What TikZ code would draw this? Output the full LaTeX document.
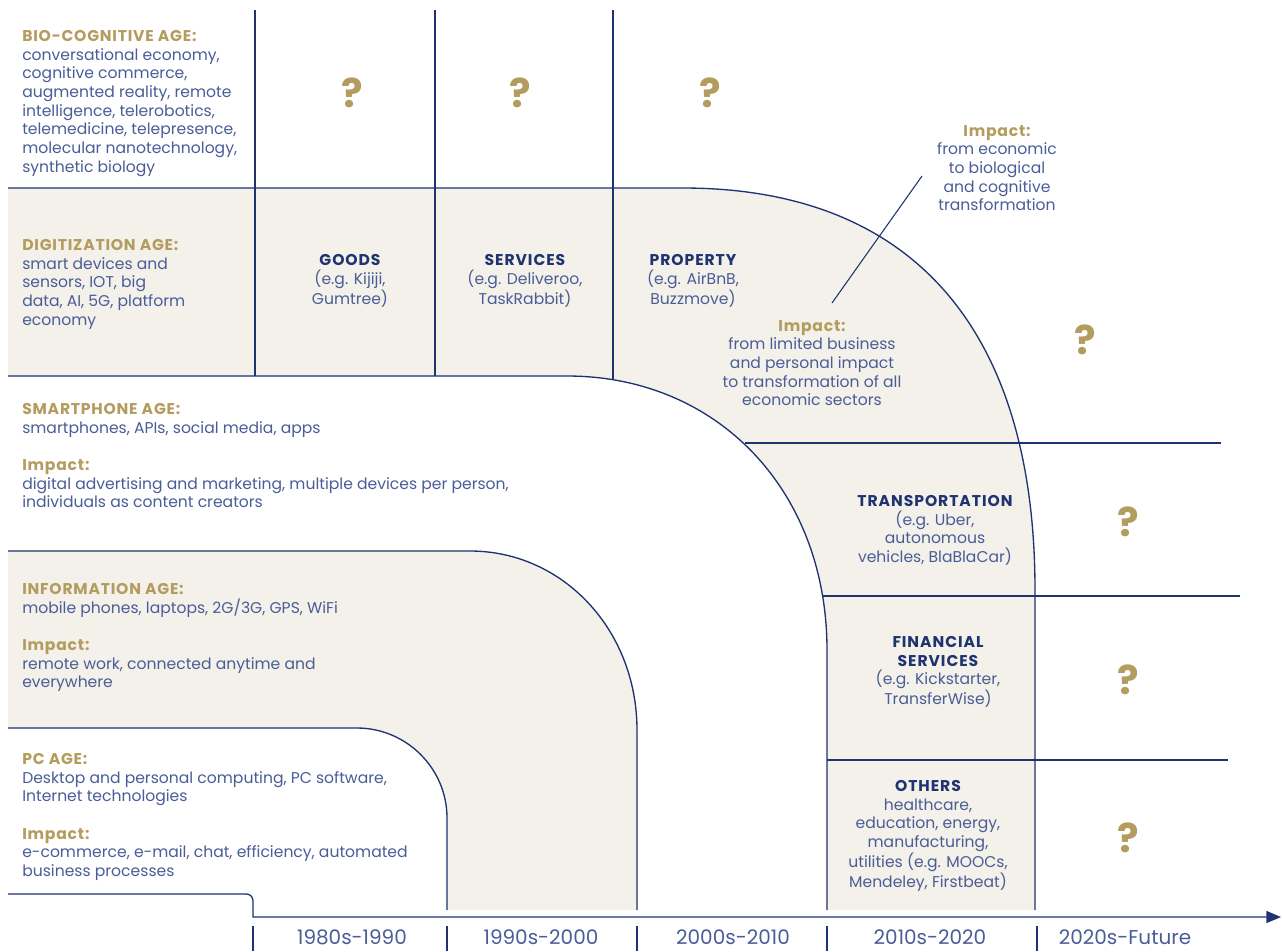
\documentclass[tikz,border=0pt]{standalone}
\usepackage{fontspec}
\setmainfont{Poppins}
\usetikzlibrary{arrows.meta}

\definecolor{navy}{HTML}{1E3370}
\definecolor{inkblue}{HTML}{4A5D98}
\definecolor{gold}{HTML}{B39C5E}
\definecolor{sand}{HTML}{F3F1E9}

\newcommand{\agehead}[1]{\textcolor{gold}{\bfseries\addfontfeatures{LetterSpace=5}#1}}
\newcommand{\cellhead}[1]{\textcolor{navy}{\bfseries\addfontfeatures{LetterSpace=6}#1}}

\begin{document}
\begin{tikzpicture}[x=0.75pt, y=-0.75pt,
  band/.style={fill=sand},
  rule/.style={navy, line width=1pt},
  agetext/.style={anchor=north west, align=left, inner sep=0pt, text=inkblue,
    font=\fontsize{11.7}{14}\selectfont},
  celltext/.style={anchor=north, align=center, inner sep=0pt, text=inkblue,
    font=\fontsize{11.7}{14}\selectfont},
  query/.style={text=gold, inner sep=0pt, font=\fontsize{30}{30}\selectfont\bfseries},
  decade/.style={text=inkblue, inner sep=0pt, font=\fontsize{15}{15}\selectfont}]

\fill[white] (0,0) rectangle (1282,951);
\useasboundingbox (0,0) rectangle (1282,951);

% Beige bands
\fill[band] (8,188) -- (683,188) .. controls (912,188) and (1035,329) .. (1035,590)
  -- (1035,910) -- (827,910) -- (827,650) .. controls (827,491) and (718,376) .. (567,376)
  -- (8,376) -- cycle;
\fill[band] (8,551) -- (470,551) .. controls (563,551) and (637,630) .. (637,730)
  -- (637,910) -- (447,910) -- (447,818) .. controls (447,768) and (406,728) .. (357,728)
  -- (8,728) -- cycle;

% Band edges
\draw[rule] (8,188) -- (683,188) .. controls (912,188) and (1035,329) .. (1035,590) -- (1035,910);
\draw[rule] (8,376) -- (567,376) .. controls (718,376) and (827,491) .. (827,650) -- (827,910);
\draw[rule] (8,551) -- (470,551) .. controls (563,551) and (637,630) .. (637,730) -- (637,910);
\draw[rule] (8,728) -- (357,728) .. controls (406,728) and (447,768) .. (447,818) -- (447,910);

% Column and row rules
\draw[rule] (255,10) -- (255,376);
\draw[rule] (435,10) -- (435,376);
\draw[rule] (613,10) -- (613,380);
\draw[rule] (745,443) -- (1221,443);
\draw[rule] (822,596) -- (1240,596);
\draw[rule] (827,760) -- (1228,760);

% Time axis
\draw[rule, -{Triangle[length=11pt, width=9pt]}] (8,894) [rounded corners=5pt] -- (253,894)
  [sharp corners] -- (253,917) -- (1281,917);
\foreach \x in {253,447,637,827,1037}
  \draw[rule] (\x,926) -- (\x,951);

% Ages
\node[agetext] (bio) at (22,30) {\agehead{BIO-COGNITIVE AGE:}\\conversational economy,\\cognitive commerce,\\augmented reality, remote\\intelligence, telerobotics,\\telemedicine, telepresence,\\molecular nanotechnology,\\synthetic biology};
\node[agetext] (digi) at (22,239) {\agehead{DIGITIZATION AGE:}\\smart devices and\\sensors, IOT, big\\data, AI, 5G, platform\\economy};
\node[agetext] (smart) at (22,403) {\agehead{SMARTPHONE AGE:}\\smartphones, APIs, social media, apps\\[14pt]\agehead{Impact:}\\digital advertising and marketing, multiple devices per person,\\individuals as content creators};
\node[agetext] (info) at (22,583) {\agehead{INFORMATION AGE:}\\mobile phones, laptops, 2G/3G, GPS, WiFi\\[14pt]\agehead{Impact:}\\remote work, connected anytime and\\everywhere};
\node[agetext] (pc) at (22,753) {\agehead{PC AGE:}\\Desktop and personal computing, PC software,\\Internet technologies\\[14pt]\agehead{Impact:}\\e-commerce, e-mail, chat, efficiency, automated\\business processes};

% Sectors
\node[celltext] (goods) at (350,254) {\cellhead{GOODS}\\(e.g. Kijiji,\\Gumtree)};
\node[celltext] (services) at (525,254) {\cellhead{SERVICES}\\(e.g. Deliveroo,\\TaskRabbit)};
\node[celltext] (property) at (693,254) {\cellhead{PROPERTY}\\(e.g. AirBnB,\\Buzzmove)};
\node[celltext] (transport) at (935,495) {\cellhead{TRANSPORTATION}\\(e.g. Uber,\\autonomous\\vehicles, BlaBlaCar)};
\node[celltext] (finance) at (938,636) {\cellhead{FINANCIAL}\\\cellhead{SERVICES}\\(e.g. Kickstarter,\\TransferWise)};
\node[celltext] (others) at (928,780) {\cellhead{OTHERS}\\healthcare,\\education, energy,\\manufacturing,\\utilities (e.g. MOOCs,\\Mendeley, Firstbeat)};

% Impacts
\node[celltext] (impactdigi) at (812,320) {\agehead{Impact:}\\from limited business\\and personal impact\\to transformation of all\\economic sectors};
\node[celltext] (impactbio) at (997,125) {\agehead{Impact:}\\from economic\\to biological\\and cognitive\\transformation};
\coordinate (leadlow) at (832,303);
\coordinate (leadhigh) at (922,176);
\draw[rule, line width=0.8pt] (leadlow) -- (leadhigh);

% Open questions
\node[query] (q1) at (352,93) {?};
\node[query] (q2) at (520,93) {?};
\node[query] (q3) at (710,93) {?};
\node[query] (q4) at (1085,340) {?};
\node[query] (q5) at (1128,522) {?};
\node[query] (q6) at (1128,680) {?};
\node[query] (q7) at (1128,838) {?};

% Decades
\node[decade] (d1) at (352,937) {1980s-1990};
\node[decade] (d2) at (541,937) {1990s-2000};
\node[decade] (d3) at (733,937) {2000s-2010};
\node[decade] (d4) at (930,937) {2010s-2020};
\node[decade] (d5) at (1125,937) {2020s-Future};

\end{tikzpicture}
\end{document}
